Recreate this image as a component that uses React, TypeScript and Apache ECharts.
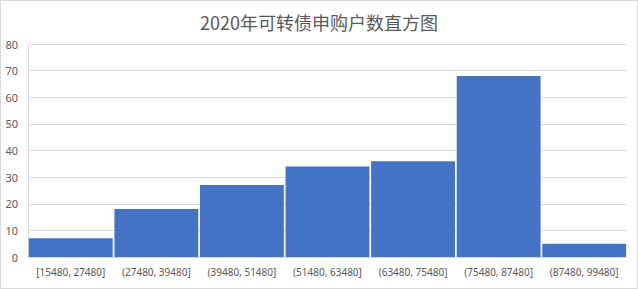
import React, { useEffect, useRef } from "react";
import * as echarts from "echarts";

const title = "2020年可转债申购户数直方图";
const categories = [
  "[15480, 27480]",
  "(27480, 39480]",
  "(39480, 51480]",
  "(51480, 63480]",
  "(63480, 75480]",
  "(75480, 87480]",
  "(87480, 99480]",
];
const counts = [7, 18, 27, 34, 36, 68, 5];
const yTicks = { min: 0, max: 80, interval: 10 };

export default function App() {
  const ref = useRef<HTMLDivElement>(null);
  useEffect(() => {
    document.body.style.margin = "0";
    const chart = echarts.init(ref.current!, null, { renderer: "svg" });
    chart.setOption({
      animation: false,
      backgroundColor: "#ffffff",
      title: {
        text: title,
        left: "center",
        top: 8,
        textStyle: {
          fontFamily: "Noto Sans CJK SC",
          fontSize: 18,
          fontWeight: "normal",
          color: "#595959",
        },
      },
      graphic: [
        {
          type: "rect",
          shape: { x: 0.5, y: 0.5, width: 637, height: 288 },
          style: { fill: "none", stroke: "#d9d9d9", lineWidth: 1 },
          silent: true,
        },
      ],
      grid: { left: 28, right: 11, top: 44, bottom: 32 },
      xAxis: {
        type: "category",
        data: categories,
        axisTick: { show: false },
        axisLine: { show: true, lineStyle: { color: "#d9d9d9" } },
        axisLabel: {
          color: "#595959",
          fontFamily: "Noto Sans",
          fontSize: 10,
          margin: 10,
          interval: 0,
        },
      },
      yAxis: {
        type: "value",
        min: yTicks.min,
        max: yTicks.max,
        interval: yTicks.interval,
        axisLine: { show: true, lineStyle: { color: "#d9d9d9" } },
        axisTick: { show: false },
        splitLine: { lineStyle: { color: "#d9d9d9" } },
        axisLabel: {
          color: "#595959",
          fontFamily: "Noto Sans",
          fontSize: 11,
          margin: 10,
        },
      },
      series: [
        {
          type: "bar",
          data: counts,
          barCategoryGap: "2%",
          itemStyle: { color: "#4472C4" },
        },
      ],
    });
    return () => chart.dispose();
  }, []);
  return <div ref={ref} style={{ width: 638, height: 289 }} />;
}
